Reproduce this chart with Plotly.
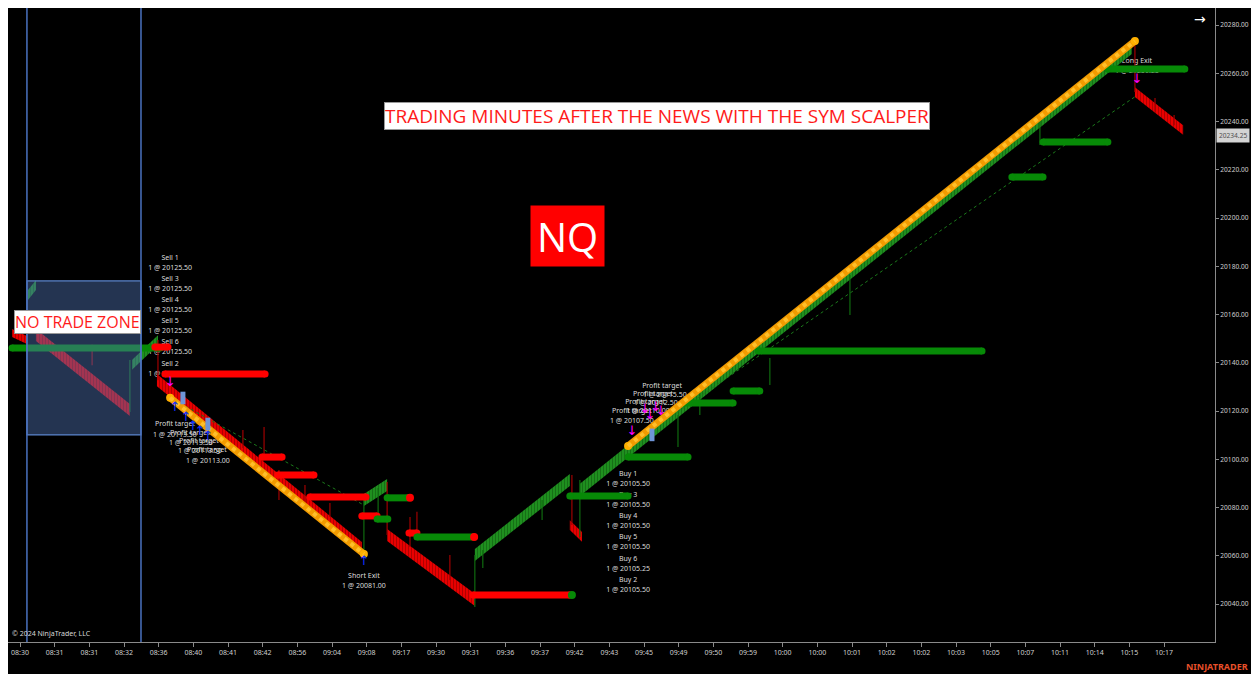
import plotly.graph_objects as go

# ---------------- data ----------------
tick_labels = ["08:30", "08:31", "08:31", "08:32", "08:36", "08:40", "08:41", "08:42", "08:56",
               "09:04", "09:08", "09:17", "09:30", "09:31", "09:36", "09:37", "09:42", "09:43",
               "09:45", "09:49", "09:50", "09:59", "10:00", "10:00", "10:01", "10:02", "10:02",
               "10:03", "10:05", "10:07", "10:11", "10:14", "10:15", "10:17"]
tick_bars = [0, 10, 20, 30, 40, 50, 60, 70, 80, 90, 100, 110, 120, 130, 140, 150, 160, 170,
             180, 190, 200, 210, 220, 230, 240, 250, 260, 270, 280, 290, 300, 310, 320, 330]

# price-action bands (runs of bars): start/end bar, start/end mid price, band height, colour
band_x0 = [-2.3, 2.3, 4.6, 32.3, 39.5, 99.2, 105.9, 131.2, 158.6, 161.5, 321.6]
band_x1 = [2.0, 4.6, 31.7, 39.8, 98.6, 105.9, 131.2, 158.6, 162.1, 320.7, 335.5]
band_p0 = [20152.3, 20168.1, 20151.5, 20139.1, 20132.8, 20083.1, 20068.6, 20060.3, 20072.7, 20087.3, 20252.2]
band_p1 = [20149.4, 20172.2, 20120.4, 20149.4, 20063.2, 20089.3, 20041.7, 20091.4, 20067.8, 20270.5, 20236.5]
band_h = [3.3, 4.1, 5.0, 4.1, 5.0, 5.0, 5.0, 5.0, 4.0, 5.0, 4.0]
band_dir = ["dn", "up", "dn", "up", "dn", "up", "dn", "up", "dn", "up", "dn"]

# wicks: bar, low, high, direction
wick_x = [20.8, 31.7, 39.8, 64.3, 70.4, 74.7, 82.2, 89.4, 99.2, 103.3, 105.9, 112.5, 114.5,
          124.0, 131.2, 133.5, 150.6, 159.2, 161.5, 189.8, 196.1, 216.3, 239.4, 294.2,
          321.6, 327.4, 332.9]
wick_lo = [20139.0, 20119.6, 20132.8, 20104.7, 20100.5, 20083.1, 20081.0, 20076.1, 20059.5,
           20076.9, 20068.6, 20063.6, 20066.5, 20049.9, 20038.8, 20054.9, 20074.8, 20072.7,
           20067.8, 20105.1, 20118.3, 20130.8, 20159.8, 20230.3, 20252.2, 20244.0, 20238.5]
wick_hi = [20147.5, 20141.1, 20149.4, 20112.1, 20113.4, 20095.5, 20089.3, 20081.9, 20083.1,
           20088.1, 20090.6, 20076.1, 20078.2, 20060.3, 20060.3, 20062.4, 20083.1, 20093.5,
           20091.4, 20118.3, 20127.9, 20142.0, 20176.4, 20242.7, 20273.4, 20249.7, 20242.7]
wick_dir = ["dn", "up", "dn", "dn", "dn", "dn", "dn", "dn", "up", "up", "dn", "dn", "dn",
            "dn", "up", "up", "up", "dn", "up", "up", "up", "up", "up", "up", "dn", "dn", "dn"]

# stop / target levels: start bar, end bar, price, colour
lvl_x0 = [-2.3, 38.9, 41.8, 69.8, 74.4, 83.6, 98.6, 103.0, 105.9, 112.2, 114.5, 130.7,
          158.6, 175.4, 191.2, 205.7, 212.9, 286.1, 295.1, 313.8]
lvl_x1 = [40.4, 42.7, 70.7, 75.6, 84.8, 99.8, 103.0, 106.1, 111.9, 114.5, 131.0, 158.6,
          175.4, 192.7, 205.7, 213.4, 277.5, 295.1, 313.8, 336.0]
lvl_p = [20146.1, 20146.5, 20135.3, 20100.9, 20093.5, 20084.4, 20076.5, 20075.2, 20084.0,
         20069.4, 20067.8, 20043.7, 20084.8, 20100.9, 20123.3, 20128.3, 20144.9, 20217.0,
         20231.5, 20261.8]
lvl_dir = ["up", "dn", "dn", "dn", "dn", "dn", "dn", "up", "up", "dn", "up", "dn",
           "up", "up", "up", "up", "up", "up", "up", "up"]
dot_x = [112.5, 131.0, 159.2]
dot_p = [20084.0, 20067.8, 20043.7]
dot_dir = ["dn", "dn", "up"]

# trades: orange run line and dotted entry->exit connector
trade_x0 = [43.3, 175.4]
trade_x1 = [99.2, 321.6]
trade_p0 = [20125.5, 20105.5]
trade_p1 = [20060.7, 20273.4]
exit_p = [20081.0, 20250.25]

# no-trade zone
zone_x = [2.0, 34.9]
zone_p = [20110.1, 20173.9]

# execution arrows / markers
down_x = [43.3, 176.5, 180.3, 181.7, 183.4, 184.9, 322.2]
down_p = [20131.6, 20111.3, 20120.4, 20117.9, 20121.2, 20119.6, 20257.2]
up_x = [44.7, 47.9, 49.9, 51.9, 54.2, 99.2]
up_p = [20121.2, 20117.1, 20113.4, 20111.3, 20109.2, 20057.4]
box_x = [47.0, 54.2, 182.3]
box_p = [20125.4, 20114.6, 20110.1]

# execution labels
lbl_text = ["Sell 1", "1 @ 20125.50", "Sell 3", "1 @ 20125.50", "Sell 4", "1 @ 20125.50",
            "Sell 5", "1 @ 20125.50", "Sell 6", "1 @ 20125.50", "Sell 2", "1 @ 20125.50",
            "Profit target", "1 @ 20113.50", "Profit target", "1 @ 20113.50",
            "Profit target", "1 @ 20113.50", "Profit target", "1 @ 20113.00",
            "Short Exit", "1 @ 20081.00",
            "Buy 1", "1 @ 20105.50", "Buy 3", "1 @ 20105.50", "Buy 4", "1 @ 20105.50",
            "Buy 5", "1 @ 20105.50", "Buy 6", "1 @ 20105.25", "Buy 2", "1 @ 20105.50",
            "Profit target", "1 @ 20107.50", "Profit target", "1 @ 20110.00",
            "Profit target", "1 @ 20112.50", "Profit target", "1 @ 20115.50",
            "Long Exit", "1 @ 20250.25"]
lbl_x = [43.3] * 12 + [44.7, 44.7, 49.0, 49.3, 51.6, 51.9, 53.9, 54.2, 99.2, 99.2] + [175.4] * 12 + \
        [176.5, 176.5, 180.3, 181.1, 182.6, 183.4, 185.2, 186.0, 322.2, 322.2]
lbl_p = [20183.4, 20179.3, 20174.7, 20170.6, 20166.0, 20161.9, 20157.3, 20153.2, 20148.6, 20144.5,
         20139.5, 20135.3,
         20114.6, 20110.1, 20110.9, 20106.7, 20107.6, 20103.4, 20103.8, 20099.3,
         20051.6, 20047.5,
         20093.9, 20089.7, 20085.2, 20081.0, 20076.5, 20072.3, 20067.8, 20063.6, 20058.7, 20054.5,
         20049.9, 20045.8,
         20120.0, 20115.9, 20123.7, 20120.0, 20127.0, 20123.3, 20130.4, 20126.6,
         20265.1, 20260.9]

last_price = 20234.25

# ---------------- styles ----------------
RED = "#ff0000"
GREEN = "#078a07"
COL = {"up": GREEN, "dn": RED}
BAND_BG = {"up": "#1f8f1f", "dn": "#e80000"}
BAND_FG = {"up": "#0a4a0a", "dn": "#700000"}
WICK = {"up": "#0f6a0f", "dn": "#a00000"}
FONT = "Noto Sans"

fig = go.Figure()

# labels (drawn first, under everything)
fig.add_trace(go.Scatter(x=lbl_x, y=lbl_p, mode="text", text=lbl_text,
                         textfont=dict(family=FONT, size=7, color="#dcdcdc"),
                         textposition="middle center", cliponaxis=False, hoverinfo="skip"))

# bands
for x0, x1, p0, p1, h, d in zip(band_x0, band_x1, band_p0, band_p1, band_h, band_dir):
    fig.add_trace(go.Scatter(
        x=[x0, x1, x1, x0, x0],
        y=[p0 + h / 2, p1 + h / 2, p1 - h / 2, p0 - h / 2, p0 + h / 2],
        mode="lines", fill="toself", line=dict(width=0, color=BAND_BG[d]),
        fillcolor=BAND_BG[d],
        fillpattern=dict(shape="|", fgcolor=BAND_FG[d], bgcolor=BAND_BG[d], size=3, solidity=0.3),
        hoverinfo="skip"))

# wicks
for x, lo, hi, d in zip(wick_x, wick_lo, wick_hi, wick_dir):
    fig.add_trace(go.Scatter(x=[x, x], y=[lo, hi], mode="lines",
                             line=dict(color=WICK[d], width=1.2), hoverinfo="skip"))

# dotted trade connectors
for x0, x1, p0, p1 in zip(trade_x0, trade_x1, trade_p0, exit_p):
    fig.add_trace(go.Scatter(x=[x0, x1], y=[p0, p1], mode="lines",
                             line=dict(color="#1b7a1b", width=1, dash="dot"), hoverinfo="skip"))

# levels
for x0, x1, p, d in zip(lvl_x0, lvl_x1, lvl_p, lvl_dir):
    fig.add_trace(go.Scatter(x=[x0, x1], y=[p, p], mode="lines+markers",
                             line=dict(color=COL[d], width=7),
                             marker=dict(color=COL[d], size=7, line=dict(width=0)),
                             hoverinfo="skip"))
fig.add_trace(go.Scatter(x=dot_x, y=dot_p, mode="markers",
                         marker=dict(color=[COL[d] for d in dot_dir], size=8, line=dict(width=0)),
                         hoverinfo="skip"))

# orange trade lines (beaded look: solid line + lighter dotted overlay)
for x0, x1, p0, p1 in zip(trade_x0, trade_x1, trade_p0, trade_p1):
    fig.add_trace(go.Scatter(x=[x0, x1], y=[p0, p1], mode="lines+markers",
                             line=dict(color="#f29b00", width=7),
                             marker=dict(color="#ffb000", size=8, line=dict(width=0)),
                             hoverinfo="skip"))
    fig.add_trace(go.Scatter(x=[x0, x1], y=[p0, p1], mode="lines",
                             line=dict(color="#ffbf2a", width=4, dash="dot"),
                             hoverinfo="skip"))

# arrows & markers
fig.add_trace(go.Scatter(x=down_x, y=down_p, mode="text", text=["↓"] * len(down_x),
                         textfont=dict(family="DejaVu Sans", size=13, color="#ff00ff"),
                         hoverinfo="skip", cliponaxis=False))
fig.add_trace(go.Scatter(x=up_x, y=up_p, mode="text", text=["↑"] * len(up_x),
                         textfont=dict(family="DejaVu Sans", size=13, color="#1030ff"),
                         hoverinfo="skip", cliponaxis=False))
fig.add_trace(go.Scatter(x=box_x, y=box_p, mode="markers",
                         marker=dict(symbol="line-ns", size=9, line=dict(width=5, color="#6f95d8")),
                         hoverinfo="skip"))

# ---------------- layout ----------------
OFF = 8                       # page body margin
W, H = 1259 - 2 * OFF, 674 - OFF
L, R, T, B = 0, 36, 0, 32
pw, ph = W - L - R, H - T - B


def px_x(px):
    return (px - OFF - L) / pw


def px_y(py):
    return 1 - (py - OFF - T) / ph


shapes = [
    dict(type="rect", xref="x", yref="y", x0=zone_x[0], x1=zone_x[1], y0=zone_p[0], y1=zone_p[1],
         fillcolor="rgba(80,115,180,0.45)", line=dict(color="#5b84cc", width=1.2), layer="above"),
]
for zx in zone_x:
    shapes.append(dict(type="line", xref="x", yref="paper", x0=zx, x1=zx, y0=0, y1=1,
                       line=dict(color="#4a72c0", width=1.5), layer="above"))

annotations = [
    dict(xref="paper", yref="paper", x=px_x(657), y=px_y(116), xanchor="center", yanchor="middle",
         text="TRADING MINUTES AFTER THE NEWS WITH THE SYM SCALPER",
         font=dict(family="Open Sans", size=19, color="#ff1a1a"),
         bgcolor="white", bordercolor="#999999", borderwidth=1, borderpad=0, showarrow=False),
    dict(xref="paper", yref="paper", x=px_x(567), y=px_y(236), xanchor="center", yanchor="middle",
         text="NQ", font=dict(family="Open Sans", size=40, color="white"),
         bgcolor="#ff0000", borderpad=3, width=67, height=54, showarrow=False),
    dict(xref="paper", yref="paper", x=px_x(77), y=px_y(322), xanchor="center", yanchor="middle",
         text="NO TRADE ZONE", font=dict(family="Open Sans", size=16, color="#ff1a1a"),
         bgcolor="white", bordercolor="#999999", borderwidth=1, borderpad=0, showarrow=False),
    dict(xref="paper", yref="paper", x=px_x(10), y=px_y(633), xanchor="left", yanchor="middle",
         text="© 2024 NinjaTrader, LLC", font=dict(family=FONT, size=7, color="#d8d8d8"),
         showarrow=False),
    dict(xref="paper", yref="paper", x=px_x(1250), y=px_y(666), xanchor="right", yanchor="middle",
         text="<b>NINJATRADER</b>", font=dict(family=FONT, size=9, color="#e8502a"), showarrow=False),
    dict(xref="paper", yref="paper", x=px_x(1200), y=px_y(19), xanchor="center", yanchor="middle",
         text="→", font=dict(family="DejaVu Sans", size=14, color="white"), showarrow=False),
    dict(xref="paper", yref="y", x=1, y=last_price, xanchor="left", yanchor="middle",
         text=f"{last_price:.2f}", font=dict(family=FONT, size=6.6, color="#505050"),
         bgcolor="#d4d4d4", borderpad=2, showarrow=False, xshift=1),
]

fig.update_layout(
    width=W, height=H,
    margin=dict(l=L, r=R, t=T, b=B, pad=0),
    paper_bgcolor="black", plot_bgcolor="black",
    showlegend=False,
    shapes=shapes, annotations=annotations,
    xaxis=dict(range=[-3.46, 344.7], tickmode="array", tickvals=tick_bars, ticktext=tick_labels,
               showgrid=False, zeroline=False, showline=True, linecolor="#8a8a8a", linewidth=1,
               ticks="outside", ticklen=4, tickcolor="#8a8a8a",
               tickfont=dict(family=FONT, size=7, color="#cfcfcf")),
    yaxis=dict(range=[20024.25, 20287.05], side="right", dtick=20, tick0=20040, tickformat=".2f",
               showgrid=False, zeroline=False, showline=True, linecolor="#8a8a8a", linewidth=1,
               ticks="outside", ticklen=3, tickcolor="#8a8a8a",
               tickfont=dict(family=FONT, size=6.6, color="#cfcfcf")),
)

fig.write_html("out.html")
